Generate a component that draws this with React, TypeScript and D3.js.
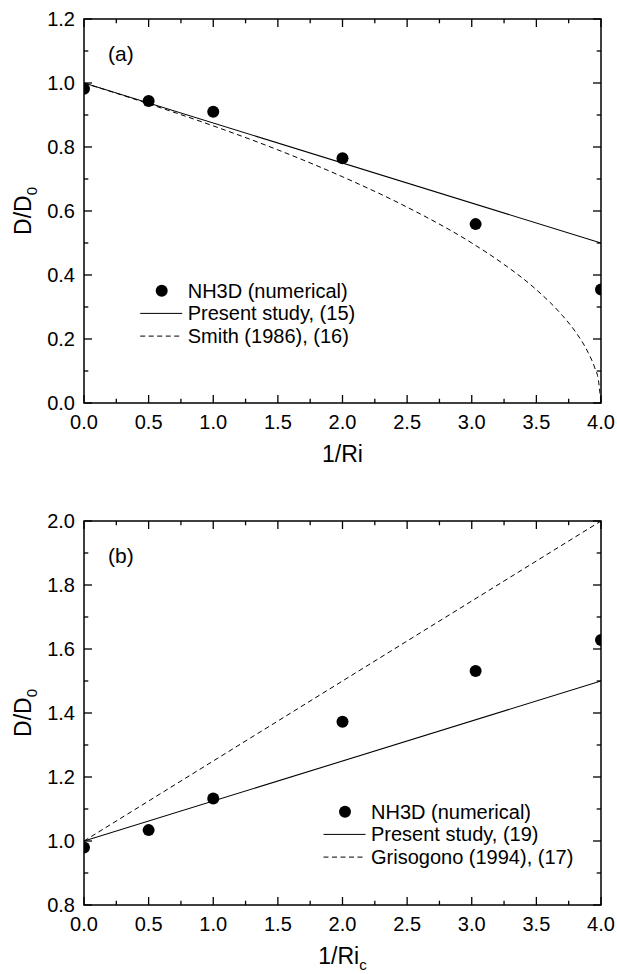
import React from "react";
import * as d3 from "d3";

// ---- Data ----
const xNum = [0, 0.5, 1, 2, 3.03, 4];
const nh3dA = [0.982, 0.944, 0.91, 0.765, 0.559, 0.355];
const nh3dB = [0.98, 1.034, 1.133, 1.373, 1.531, 1.628];

const presentAX = [0, 4];
const presentAY = [1, 0.5];
const smithX = [0, 0.5, 1, 1.5, 2, 2.5, 3, 3.25, 3.5, 3.7, 3.8, 3.9, 3.95, 3.98, 4];
const smithY = [1, 0.935, 0.866, 0.791, 0.707, 0.612, 0.5, 0.433, 0.354, 0.274, 0.224, 0.158, 0.112, 0.071, 0];

const presentBX = [0, 4];
const presentBY = [1, 1.5];
const grisX = [0, 4];
const grisY = [1, 2];

const xTicks = [0, 0.5, 1, 1.5, 2, 2.5, 3, 3.5, 4];
const xMinor = [0.25, 0.75, 1.25, 1.75, 2.25, 2.75, 3.25, 3.75];
const yTicksA = [0, 0.2, 0.4, 0.6, 0.8, 1.0, 1.2];
const yMinorA = [0.1, 0.3, 0.5, 0.7, 0.9, 1.1];
const yTicksB = [0.8, 1.0, 1.2, 1.4, 1.6, 1.8, 2.0];
const yMinorB = [0.9, 1.1, 1.3, 1.5, 1.7, 1.9];

const legendA = ["NH3D (numerical)", "Present study, (15)", "Smith (1986), (16)"];
const legendB = ["NH3D (numerical)", "Present study, (19)", "Grisogono (1994), (17)"];

const FONT = "'Liberation Sans', Arial, Helvetica, sans-serif";
const fmt = d3.format(".1f");

type PanelProps = {
  id: string;
  top: number;
  yDomain: [number, number];
  yTicks: number[];
  yMinor: number[];
  pts: number[];
  solid: [number[], number[]];
  dashed: [number[], number[]];
  label: string;
  legend: string[];
  legendX: number; // dot center x
  legendY: number; // first row y
  xSub?: string;
};

function Panel(p: PanelProps) {
  const left = 84, right = 601;
  const height = 384;
  const bottom = p.top + height;
  const x = d3.scaleLinear().domain([0, 4]).range([left, right]);
  const y = d3.scaleLinear().domain(p.yDomain).range([bottom, p.top]);
  const line = d3.line<[number, number]>().x(d => x(d[0])).y(d => y(d[1]));
  const curve = d3.line<[number, number]>().x(d => x(d[0])).y(d => y(d[1])).curve(d3.curveMonotoneX);
  const solidPts = p.solid[0].map((v, i) => [v, p.solid[1][i]] as [number, number]);
  const dashedPts = p.dashed[0].map((v, i) => [v, p.dashed[1][i]] as [number, number]);
  const major = 8, minor = 4.3;
  const rowGap = 22.7;
  const lx0 = p.legendX - 21.5, lx1 = p.legendX + 20.5, tx = p.legendX + 26;
  return (
    <g>
      <defs>
        <clipPath id={p.id}>
          <rect x={left} y={p.top} width={right - left} height={height} />
        </clipPath>
      </defs>
      <g clipPath={`url(#${p.id})`}>
        <path d={curve(dashedPts) || ""} fill="none" stroke="#000" strokeWidth={1} strokeDasharray="5,3.5" />
        <path d={line(solidPts) || ""} fill="none" stroke="#000" strokeWidth={1.1} />
        {xNum.map((v, i) => (
          <circle key={i} cx={x(v)} cy={y(p.pts[i])} r={6} fill="#000" />
        ))}
      </g>
      {/* ticks */}
      {xTicks.map(t => (
        <g key={"xt" + t}>
          <line x1={x(t)} x2={x(t)} y1={bottom} y2={bottom - major} stroke="#000" strokeWidth={1.3} />
          <line x1={x(t)} x2={x(t)} y1={p.top} y2={p.top + major} stroke="#000" strokeWidth={1.3} />
          <text x={x(t)} y={bottom + 25.5} textAnchor="middle" fontSize={20} fontFamily={FONT}>{fmt(t)}</text>
        </g>
      ))}
      {xMinor.map(t => (
        <g key={"xm" + t}>
          <line x1={x(t)} x2={x(t)} y1={bottom} y2={bottom - minor} stroke="#000" strokeWidth={1.3} />
          <line x1={x(t)} x2={x(t)} y1={p.top} y2={p.top + minor} stroke="#000" strokeWidth={1.3} />
        </g>
      ))}
      {p.yTicks.map(t => (
        <g key={"yt" + t}>
          <line x1={left} x2={left + major} y1={y(t)} y2={y(t)} stroke="#000" strokeWidth={1.3} />
          <line x1={right} x2={right - major} y1={y(t)} y2={y(t)} stroke="#000" strokeWidth={1.3} />
          <text x={75} y={y(t)} dy="0.35em" textAnchor="end" fontSize={20} fontFamily={FONT}>{fmt(t)}</text>
        </g>
      ))}
      {p.yMinor.map(t => (
        <g key={"ym" + t}>
          <line x1={left} x2={left + minor} y1={y(t)} y2={y(t)} stroke="#000" strokeWidth={1.3} />
          <line x1={right} x2={right - minor} y1={y(t)} y2={y(t)} stroke="#000" strokeWidth={1.3} />
        </g>
      ))}
      <rect x={left} y={p.top} width={right - left} height={height} fill="none" stroke="#000" strokeWidth={1.5} />
      {/* panel label */}
      <text x={108} y={p.top + 42} fontSize={21} fontFamily={FONT}>{p.label}</text>
      {/* axis titles */}
      <text x={(left + right) / 2} y={bottom + 59} textAnchor="middle" fontSize={23} fontFamily={FONT}>
        1/Ri{p.xSub ? <tspan fontSize={15} dy={6}>{p.xSub}</tspan> : null}
      </text>
      <text transform={`translate(31,${(p.top + bottom) / 2}) rotate(-90)`} textAnchor="middle" fontSize={23} fontFamily={FONT}>
        D/D<tspan fontSize={15} dy={6}>0</tspan>
      </text>
      {/* legend */}
      <circle cx={p.legendX} cy={p.legendY} r={6} fill="#000" />
      <text x={tx} y={p.legendY} dy="0.35em" fontSize={20} fontFamily={FONT}>{p.legend[0]}</text>
      <line x1={lx0} x2={lx1} y1={p.legendY + rowGap} y2={p.legendY + rowGap} stroke="#000" strokeWidth={1} />
      <text x={tx} y={p.legendY + rowGap} dy="0.35em" fontSize={20} fontFamily={FONT}>{p.legend[1]}</text>
      <line x1={lx0} x2={lx1} y1={p.legendY + 2 * rowGap} y2={p.legendY + 2 * rowGap} stroke="#000" strokeWidth={1} strokeDasharray="5,3.5" />
      <text x={tx} y={p.legendY + 2 * rowGap} dy="0.35em" fontSize={20} fontFamily={FONT}>{p.legend[2]}</text>
    </g>
  );
}

export default function App() {
  return (
    <svg width={617} height={974} style={{ position: "absolute", left: 0, top: 0, background: "#fff" }}>
      <rect x={0} y={0} width={617} height={974} fill="#fff" />
      <Panel
        id="clipA"
        top={19}
        yDomain={[0, 1.2]}
        yTicks={yTicksA}
        yMinor={yMinorA}
        pts={nh3dA}
        solid={[presentAX, presentAY]}
        dashed={[smithX, smithY]}
        label="(a)"
        legend={legendA}
        legendX={161.7}
        legendY={290.7}
      />
      <Panel
        id="clipB"
        top={521}
        yDomain={[0.8, 2.0]}
        yTicks={yTicksB}
        yMinor={yMinorB}
        pts={nh3dB}
        solid={[presentBX, presentBY]}
        dashed={[grisX, grisY]}
        label="(b)"
        legend={legendB}
        legendX={345}
        legendY={811.7}
        xSub="c"
      />
    </svg>
  );
}
